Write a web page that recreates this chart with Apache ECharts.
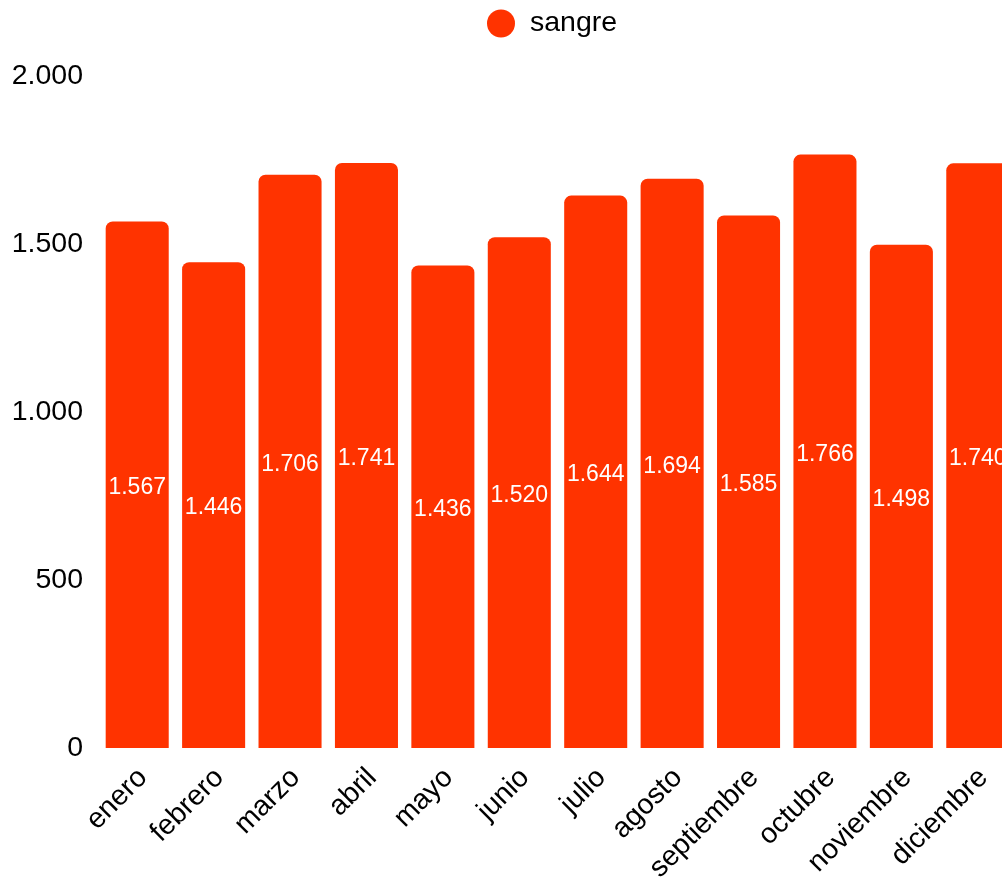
<!DOCTYPE html>
<html>
<head>
<meta charset="utf-8">
<script src="https://cdn.jsdelivr.net/npm/echarts@6/dist/echarts.min.js"></script>
<style>
html,body{margin:0;padding:0;background:#fff;}
#c{width:1002px;height:877px;}
</style>
</head>
<body>
<div id="c"></div>
<script>
var categories = ['enero','febrero','marzo','abril','mayo','junio','julio','agosto','septiembre','octubre','noviembre','diciembre'];
var sangre = [1567,1446,1706,1741,1436,1520,1644,1694,1585,1766,1498,1740];
var seriesName = 'sangre';

function fmt(v){
  return String(v).replace(/\B(?=(\d{3})+(?!\d))/g, '.');
}

var chart = echarts.init(document.getElementById('c'));
chart.setOption({
  animation:false,
  textStyle:{fontFamily:'Liberation Sans'},
  legend:{
    top:4, left:482,
    icon:'circle', itemWidth:28, itemHeight:28, itemGap:10,
    textStyle:{fontSize:28.5, color:'#000', fontFamily:'Liberation Sans', padding:[0,0,4,10]},
    data:[seriesName]
  },
  grid:{left:99, top:76, bottom:129, width:917, containLabel:false, outerBoundsMode:'none'},
  xAxis:{
    type:'category', data:categories,
    axisLine:{show:false}, axisTick:{show:false},
    axisLabel:{rotate:45, fontSize:28.5, color:'#000', margin:31, interval:0, padding:[14,-8,0,0], fontFamily:'Liberation Sans'}
  },
  yAxis:{
    type:'value', min:0, max:2000, interval:500,
    axisLine:{show:false}, axisTick:{show:false}, splitLine:{show:false},
    axisLabel:{fontSize:28.5, color:'#000', margin:16, formatter:function(v){return fmt(v);}, fontFamily:'Liberation Sans'}
  },
  series:[{
    name:seriesName, type:'bar', data:sangre,
    barCategoryGap:'17.5%',
    itemStyle:{color:'#ff3300', borderRadius:[7,7,0,0]},
    label:{show:true, position:'inside', offset:[0,3], color:'#fff', fontSize:23, fontFamily:'Liberation Sans', formatter:function(p){return fmt(p.value);}}
  }]
});
</script>
</body>
</html>
